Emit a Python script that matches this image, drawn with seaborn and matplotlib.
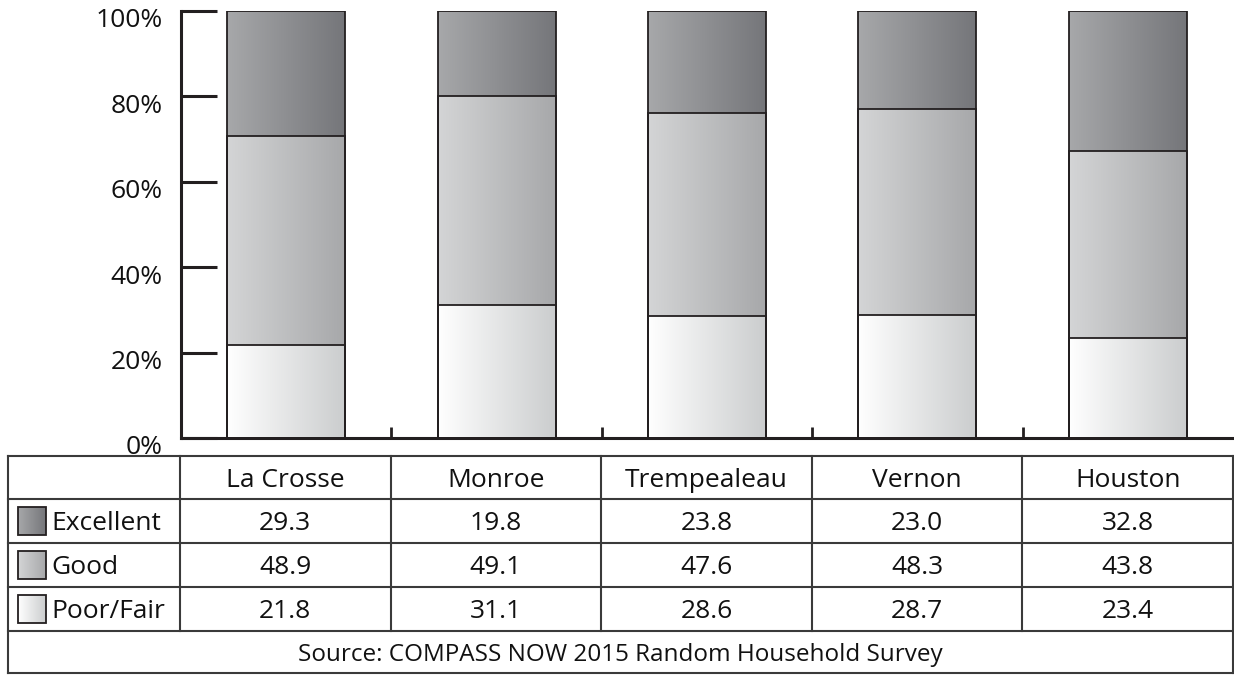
import numpy as np
import pandas as pd
import matplotlib
matplotlib.use("Agg")
import matplotlib.pyplot as plt
import seaborn as sns
from matplotlib.colors import LinearSegmentedColormap
from matplotlib.patches import Rectangle
from matplotlib.transforms import ScaledTranslation

# ---- data -------------------------------------------------------------
counties = ["La Crosse", "Monroe", "Trempealeau", "Vernon", "Houston"]
ratings = ["Excellent", "Good", "Poor/Fair"]
excellent = [29.3, 19.8, 23.8, 23.0, 32.8]
good = [48.9, 49.1, 47.6, 48.3, 43.8]
poor_fair = [21.8, 31.1, 28.6, 28.7, 23.4]
y_ticks = [0, 20, 40, 60, 80, 100]
source_note = "Source: COMPASS NOW 2015 Random Household Survey"

# horizontal gradient (left colour, right colour) for each rating
gradients = {
    "Excellent": ("#a7a8aa", "#75767a"),
    "Good": ("#d4d5d6", "#a7a8aa"),
    "Poor/Fair": ("#ffffff", "#cbcdce"),
}
EDGE = "#231f20"

sns.set_theme(style="white")
plt.rcParams["font.family"] = ["Open Sans", "DejaVu Sans"]

W, H = 1234, 675
fig = plt.figure(figsize=(W / 100, H / 100), dpi=100)
ax = fig.add_axes([181 / W, 1 - 438 / H, (1233 - 181) / W, 427 / H])

df = pd.DataFrame({"county": counties, "Excellent": excellent,
                   "Good": good, "Poor/Fair": poor_fair})
df["Poor/Fair_top"] = df["Poor/Fair"]
df["Good_top"] = df["Poor/Fair_top"] + df["Good"]
df["Excellent_top"] = df["Good_top"] + df["Excellent"]

grad_img = np.linspace(0, 1, 256).reshape(1, -1)


def gradient_fill(target_ax, patch, rating, z):
    cmap = LinearSegmentedColormap.from_list(rating, gradients[rating])
    x0, y0 = patch.get_x(), patch.get_y()
    x1, y1 = x0 + patch.get_width(), y0 + patch.get_height()
    im = target_ax.imshow(grad_img, cmap=cmap, extent=[x0, x1, y0, y1],
                          aspect="auto", zorder=z, interpolation="bilinear")
    im.set_clip_path(patch)


# stacked bars: cumulative tops drawn from tallest to shortest
for z, rating in enumerate(ratings):
    n_before = len(ax.patches)
    sns.barplot(data=df, x="county", y=f"{rating}_top", order=counties,
                width=0.56, color="white", edgecolor=EDGE, linewidth=1.3,
                errorbar=None, ax=ax)
    for p in ax.patches[n_before:]:
        gradient_fill(ax, p, rating, 1 + z)
        p.set_facecolor("none")
        p.set_zorder(10)

ax.set_xlim(-0.5, 4.5)
ax.set_ylim(0, 100)
ax.set_xlabel("")
ax.set_ylabel("")
for side in ["top", "right"]:
    ax.spines[side].set_visible(False)
for side in ["left", "bottom"]:
    ax.spines[side].set_color(EDGE)
    ax.spines[side].set_linewidth(2.2)

ax.set_yticks(y_ticks)
ax.set_yticklabels([f"{v}%" for v in y_ticks])
ax.tick_params(axis="y", direction="in", length=26, width=2.2, color=EDGE,
               labelsize=19, labelcolor="#111111", pad=13, left=True)
for lab in ax.get_yticklabels():
    lab.set_transform(lab.get_transform() +
                      ScaledTranslation(0, -7 / 100, fig.dpi_scale_trans))

ax.set_xticks([0.5, 1.5, 2.5, 3.5])
ax.set_xticklabels([])
ax.tick_params(axis="x", direction="in", length=8, width=2, color=EDGE,
               bottom=True)

# ---- data table beneath the chart -------------------------------------
tax = fig.add_axes([0, 0, 1, 1], zorder=20)
tax.set_xlim(0, W)
tax.set_ylim(H, 0)
tax.axis("off")
tax.patch.set_alpha(0)

col_edges = [8, 180] + [180 + (1233 - 180) * i / 5 for i in range(1, 6)]
row_edges = [456, 499, 543, 587, 631, 673]
LINE = "#3a3a3a"
FS = 19

tax.add_patch(Rectangle((col_edges[0], row_edges[0]),
                        col_edges[-1] - col_edges[0],
                        row_edges[-1] - row_edges[0],
                        facecolor="white", edgecolor="none", zorder=0))

for y in row_edges:
    tax.plot([col_edges[0], col_edges[-1]], [y, y], color=LINE, lw=1.5,
             solid_capstyle="projecting", zorder=3)
for x in col_edges:
    bottom = row_edges[-1] if x in (col_edges[0], col_edges[-1]) else row_edges[-2]
    tax.plot([x, x], [row_edges[0], bottom], color=LINE, lw=1.5,
             solid_capstyle="projecting", zorder=3)

for i, name in enumerate(counties):
    cx = (col_edges[i + 1] + col_edges[i + 2]) / 2
    cy = (row_edges[0] + row_edges[1]) / 2
    tax.text(cx, cy, name, ha="center", va="center_baseline",
             fontsize=FS, color="#111111")

values = {"Excellent": excellent, "Good": good, "Poor/Fair": poor_fair}
for r, rating in enumerate(ratings):
    cy = (row_edges[r + 1] + row_edges[r + 2]) / 2
    sw = Rectangle((18, cy - 14), 28, 28, facecolor="none",
                   edgecolor=EDGE, lw=1.3, zorder=5)
    tax.add_patch(sw)
    cmap = LinearSegmentedColormap.from_list(rating, gradients[rating])
    tax.imshow(grad_img, cmap=cmap, extent=[18, 46, cy + 14, cy - 14],
               aspect="auto", zorder=4, interpolation="bilinear")
    tax.text(51, cy, rating, ha="left", va="center_baseline",
             fontsize=FS, color="#111111")
    for i, v in enumerate(values[rating]):
        cx = (col_edges[i + 1] + col_edges[i + 2]) / 2
        tax.text(cx, cy, f"{v:.1f}", ha="center", va="center_baseline",
                 fontsize=FS, color="#111111")

tax.text((col_edges[0] + col_edges[-1]) / 2,
         (row_edges[-2] + row_edges[-1]) / 2, source_note,
         ha="center", va="center_baseline", fontsize=17.5, color="#111111")
tax.set_xlim(0, W)
tax.set_ylim(H, 0)

fig.savefig("out.png", dpi=100, facecolor="white")
